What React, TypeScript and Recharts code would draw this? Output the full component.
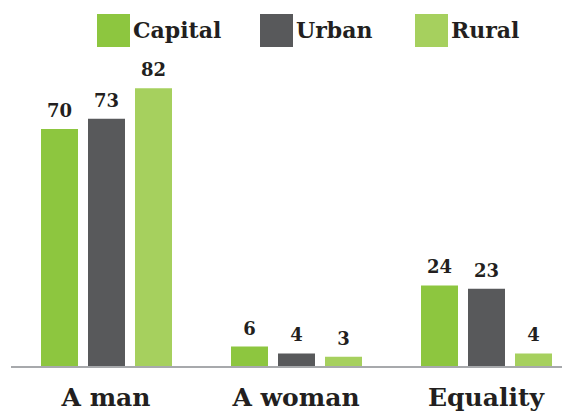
import React from "react";
import { BarChart, Bar, XAxis, YAxis, LabelList, Legend } from "recharts";

const categories = ["A man", "A woman", "Equality"];
const capital = [70, 6, 24];
const urban = [73, 4, 23];
const rural = [82, 3, 4];
const seriesNames = ["Capital", "Urban", "Rural"];
const colors = ["#8dc63f", "#58595b", "#a6d05e"];

const data = categories.map((c, i) => ({
  name: c,
  Capital: capital[i],
  Urban: urban[i],
  Rural: rural[i],
}));

const FONT = "'DejaVu Serif', serif";
const legendLeft = [89, 252, 407];

const LegendContent = () => (
  <div style={{ position: "relative", width: 560, height: 40 }}>
    {seriesNames.map((n, i) => (
      <div
        key={n}
        style={{
          position: "absolute",
          left: legendLeft[i],
          top: 0,
          display: "flex",
          alignItems: "center",
        }}
      >
        <div style={{ width: 33, height: 33, background: colors[i] }} />
        <span
          style={{
            marginLeft: 3,
            fontFamily: FONT,
            fontWeight: 700,
            fontSize: 22,
            color: "#231f20",
            lineHeight: "33px",
          }}
        >
          {n}
        </span>
      </div>
    ))}
  </div>
);

export default function App() {
  return (
    <div style={{ width: 562, height: 404, overflow: "hidden", position: "relative" }}>
      <BarChart
        width={573}
        height={404}
        data={data}
        margin={{ top: 19, right: 0, bottom: 0, left: 3 }}
        barSize={37}
        barGap={10}
        barCategoryGap={29}
      >
        <XAxis
          dataKey="name"
          tickLine={false}
          tickSize={0}
          tickMargin={21}
          height={45}
          axisLine={{ stroke: "#a7a9ac", strokeWidth: 2 }}
          tick={{ fontFamily: FONT, fontWeight: 700, fontSize: 25, fill: "#231f20" }}
          interval={0}
        />
        <YAxis hide domain={[0, 100]} />
        <Legend
          layout="horizontal"
          verticalAlign="middle"
          align="center"
          content={<LegendContent />}
          wrapperStyle={{ top: 6, left: 0, width: 560 }}
        />
        {seriesNames.map((n, i) => (
          <Bar key={n} dataKey={n} fill={colors[i]} isAnimationActive={false}>
            <LabelList
              dataKey={n}
              position="top"
              offset={12}
              style={{ fontFamily: FONT, fontWeight: 700, fontSize: 18, fill: "#231f20" }}
            />
          </Bar>
        ))}
      </BarChart>
    </div>
  );
}
